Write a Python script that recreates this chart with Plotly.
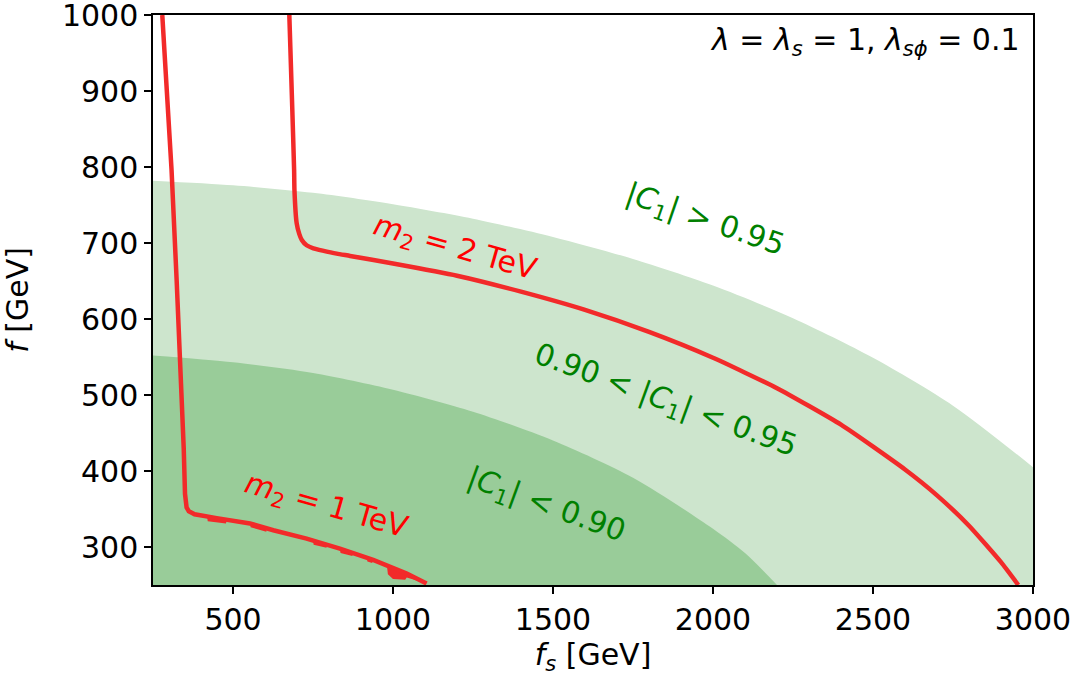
import plotly.graph_objects as go

# ---- data ----
# boundary |C1| = 0.95 (upper edge of light green region)
c95_fs = [250, 500, 750, 1000, 1250, 1500, 1750, 2000, 2250, 2500, 2750, 3000]
c95_f = [782, 776, 766, 751, 732, 708, 679, 644, 601, 549, 486, 405]
# boundary |C1| = 0.90 (upper edge of dark green region)
c90_fs = [250, 500, 750, 1000, 1250, 1500, 1750, 2000, 2100, 2200]
c90_f = [552, 543, 529, 507, 478, 440, 391, 324, 292, 250]

# m2 = 1 TeV contour
m1_fs = [279, 294, 308, 324, 340, 342, 346, 350, 355, 362, 380, 449, 553, 626, 730, 834, 938, 1043, 1105]
m1_f = [1000, 900, 796, 650, 507, 493, 430, 370, 352, 347, 343, 338, 331, 322, 311, 298, 283, 265, 252]
# ragged lower edge of the m2 = 1 TeV contour
m1_low_fs = [362, 419, 421, 478, 481, 553, 555, 604, 606, 750, 752, 792, 794, 834, 836, 873, 875,
             918, 920, 935, 937, 981, 984, 1000, 1038, 1043, 1105]
m1_low_f = [347, 340, 334, 331, 336, 331, 326, 320, 324.5, 308.5, 303, 299, 303, 298, 292, 288, 292,
            286, 281, 279, 283, 275.6, 264, 258, 257, 260, 252]

# m2 = 2 TeV contour
m2_fs = [676, 685, 691, 692, 699, 707, 715, 730, 751, 780, 824, 866, 1000, 1200, 1400, 1600, 1800,
         2000, 2200, 2400, 2600, 2700, 2800, 2900, 2954]
m2_f = [1000, 880, 796, 770, 726, 712, 704, 697, 693, 690, 686, 683, 673, 657, 636, 612, 583,
        549, 509, 461, 402, 368, 328, 280, 250]

x_ticks = [500, 1000, 1500, 2000, 2500, 3000]
y_ticks = [300, 400, 500, 600, 700, 800, 900, 1000]
x_range = [250, 3000]
y_range = [250, 1000]

LIGHT = "rgb(205,229,205)"
DARK = "rgb(153,204,153)"
RED = "rgb(242,42,42)"
FONT = "DejaVu Sans"
FS = 30

fig = go.Figure()

# shaded regions (filled down from their boundaries)
fig.add_trace(go.Scatter(x=c95_fs, y=c95_f, fill="tozeroy", fillcolor=LIGHT,
                         mode="lines", line=dict(width=0, shape="spline", smoothing=0.8),
                         hoverinfo="skip", showlegend=False))
fig.add_trace(go.Scatter(x=c90_fs, y=c90_f, fill="tozeroy", fillcolor=DARK,
                         mode="lines", line=dict(width=0, shape="spline", smoothing=0.8),
                         hoverinfo="skip", showlegend=False))

# ragged fill under the 1 TeV line
i0 = m1_fs.index(362)
fig.add_trace(go.Scatter(
    x=m1_fs[i0:] + m1_low_fs[::-1],
    y=m1_f[i0:] + m1_low_f[::-1],
    fill="toself", fillcolor=RED, mode="lines", line=dict(width=0),
    hoverinfo="skip", showlegend=False))

fig.add_trace(go.Scatter(x=m1_fs, y=m1_f, mode="lines",
                         line=dict(color=RED, width=4.5), showlegend=False))
fig.add_trace(go.Scatter(x=m2_fs, y=m2_f, mode="lines",
                         line=dict(color=RED, width=4.5, shape="spline", smoothing=0.5),
                         showlegend=False))

ann_font = dict(family=FONT, size=FS)
annotations = [
    dict(x=1194, y=693, text="<i>m</i><sub>2</sub> = 2 TeV", textangle=16,
         font=dict(ann_font, color="red")),
    dict(x=791, y=353, text="<i>m</i><sub>2</sub> = 1 TeV", textangle=16,
         font=dict(ann_font, color="red")),
    dict(x=1975, y=730, text="|<i>C</i><sub>1</sub>| > 0.95", textangle=19,
         font=dict(ann_font, color="green")),
    dict(x=1853, y=491, text="0.90 < |<i>C</i><sub>1</sub>| < 0.95", textangle=20,
         font=dict(ann_font, color="green")),
    dict(x=1478, y=354, text="|<i>C</i><sub>1</sub>| < 0.90", textangle=20,
         font=dict(ann_font, color="green")),
]
for a in annotations:
    a.update(xref="x", yref="y", showarrow=False, xanchor="center", yanchor="middle")
    fig.add_annotation(**a)

fig.add_annotation(xref="paper", yref="paper", x=0.9875, y=0.953,
                   xanchor="right", yanchor="middle", showarrow=False,
                   text="<i>λ</i> = <i>λ<sub>s</sub></i> = 1, <i>λ<sub>sϕ</sub></i> = 0.1",
                   font=dict(family=FONT, size=FS, color="black"))

axis_common = dict(showgrid=False, zeroline=False, showline=True, linecolor="black",
                   linewidth=1.5, mirror=True, ticks="outside", ticklen=7, tickwidth=1.5,
                   tickcolor="black", automargin=False, ticklabeloverflow="allow",
                   layer="above traces",
                   tickfont=dict(family=FONT, size=FS, color="black"))

fig.update_xaxes(range=x_range, tickvals=x_ticks, **axis_common,
                 title=dict(text="<i>f<sub>s</sub></i> [GeV]", standoff=2,
                            font=dict(family=FONT, size=FS, color="black")))
fig.update_yaxes(range=y_range, tickvals=y_ticks, **axis_common,
                 title=dict(text="<i>f</i> [GeV]", standoff=26,
                            font=dict(family=FONT, size=FS, color="black")))

fig.update_layout(width=1077, height=679, plot_bgcolor="white", paper_bgcolor="white",
                  margin=dict(l=153, r=44, t=15, b=94))

fig.write_html("out.html", config={"displayModeBar": False},
               post_script="document.body.style.margin='0';")
